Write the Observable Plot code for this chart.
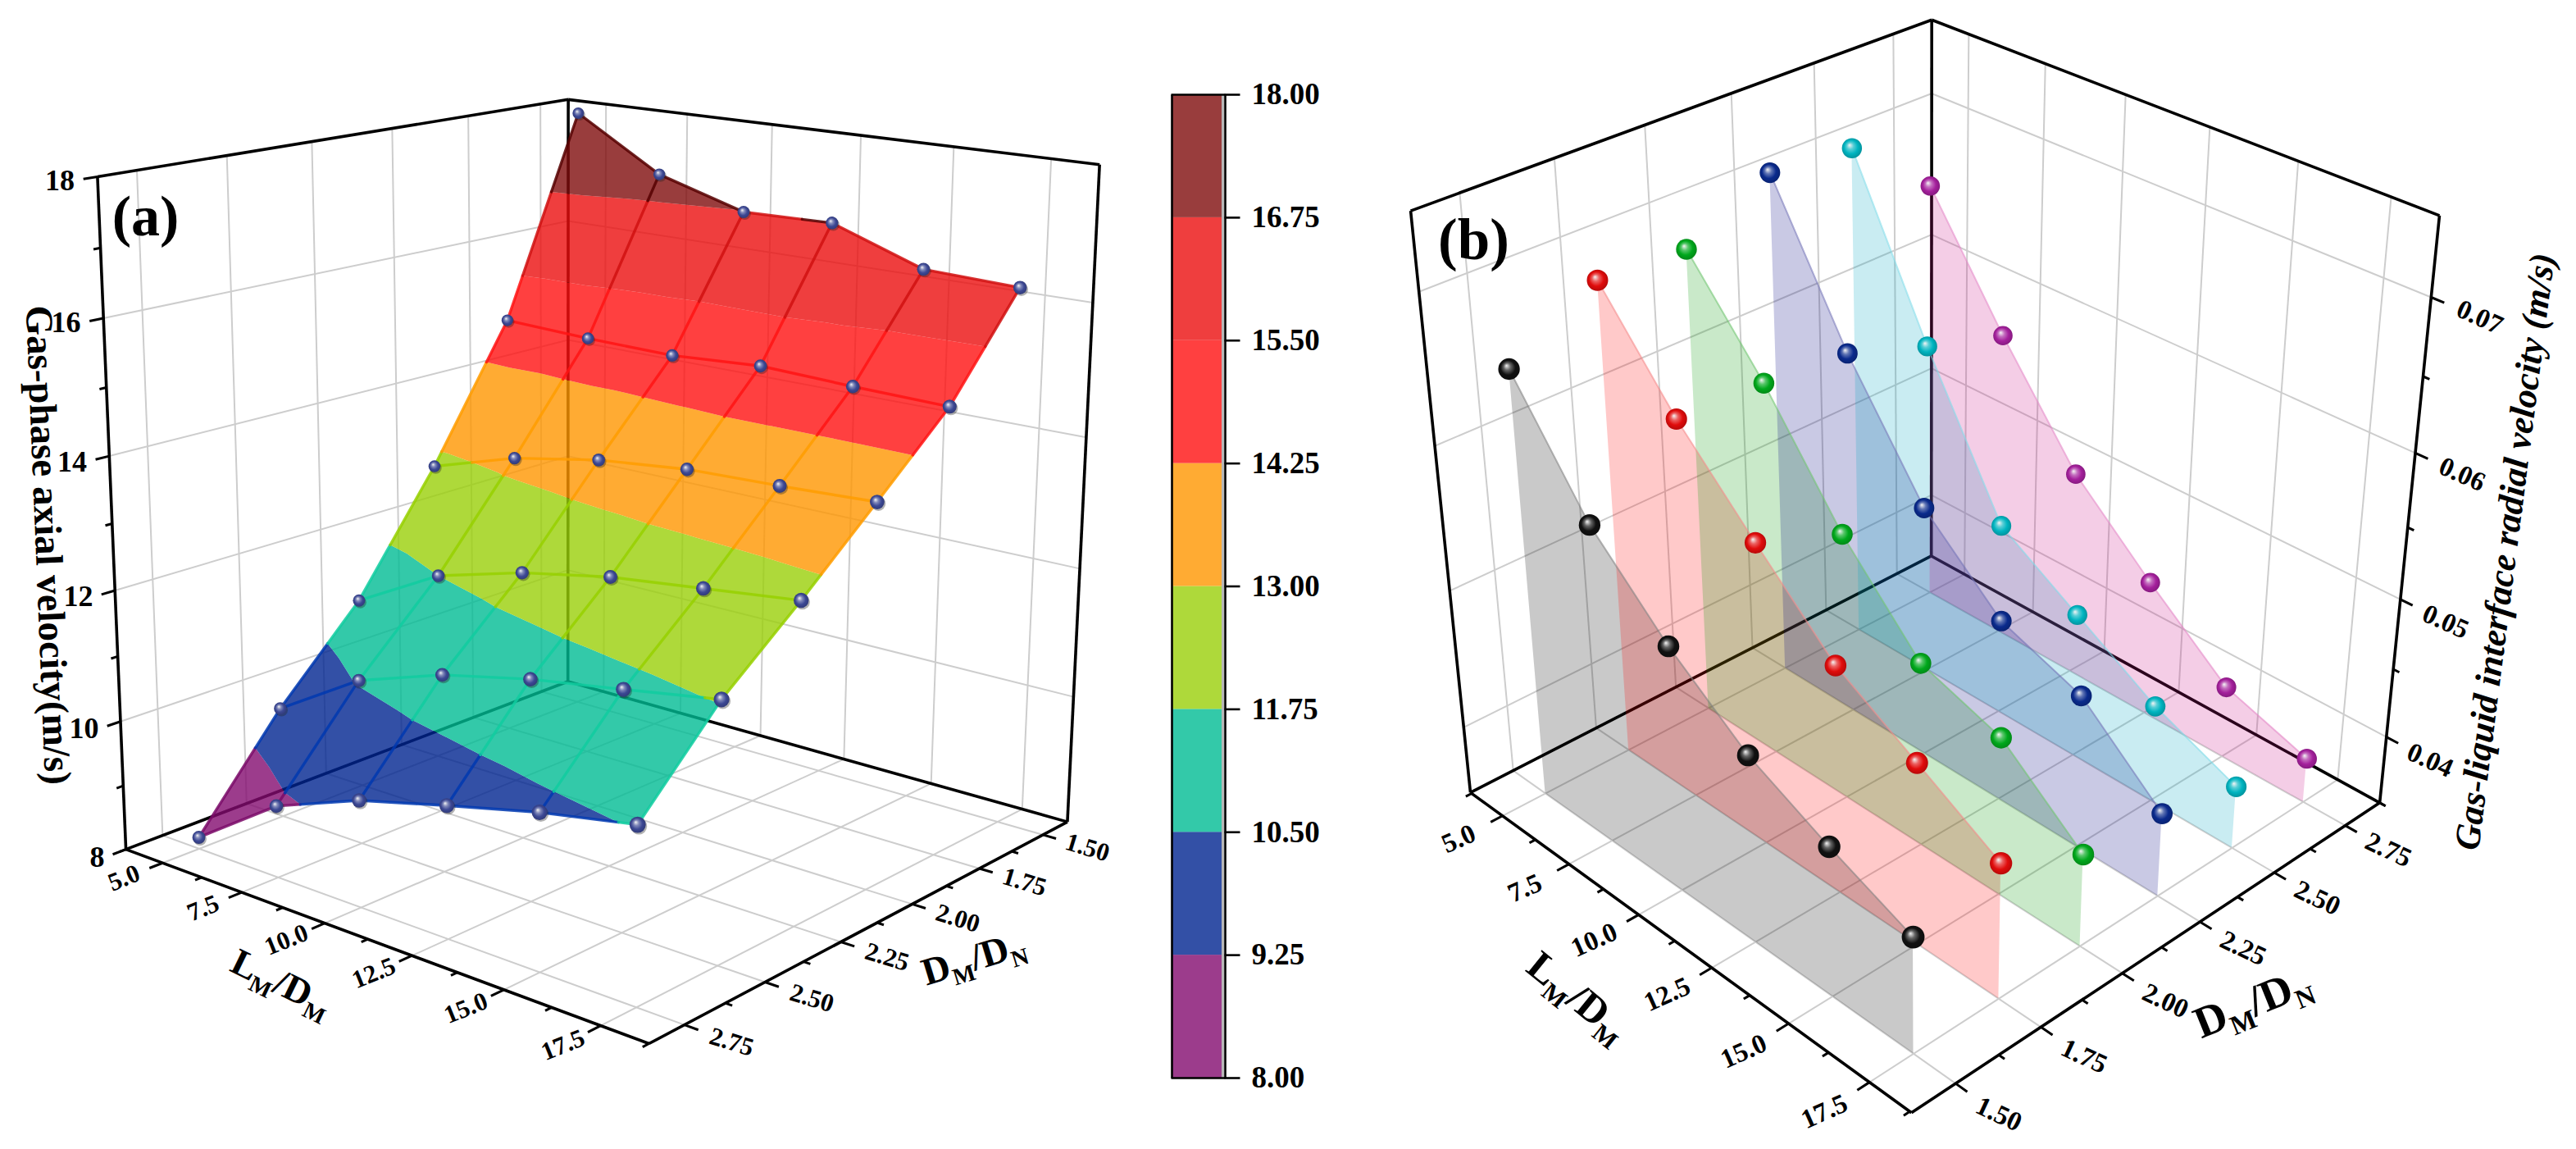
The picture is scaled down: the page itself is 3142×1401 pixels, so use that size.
<!doctype html><html><head><meta charset="utf-8"><style>html,body{margin:0;background:#fff}svg{display:block}</style></head><body><div id="chart"></div>
<script src="https://cdn.jsdelivr.net/npm/d3@7"></script>
<script src="https://cdn.jsdelivr.net/npm/@observablehq/plot@0.6"></script>
<script>
// ---------- data ----------
const lengthRatio = [5, 7.5, 10, 12.5, 15, 17.5];
const diameterRatioA = [2.75, 2.5, 2.25, 2, 1.75, 1.5];
const axial275 = [8.18, 9.10, 9.61, 9.96, 10.29, 10.55];
const axial250 = [9.73, 10.55, 11.01, 11.32, 11.55, 11.79];
const axial225 = [11.02, 11.75, 12.13, 12.40, 12.57, 12.74];
const axial200 = [12.80, 13.22, 13.48, 13.63, 13.68, 13.75];
const axial175 = [14.84, 14.79, 14.77, 14.86, 14.81, 14.78];
const axial150 = [17.93, 17.13, 16.73, 16.76, 16.27, 16.22];
const bandLevels = [8, 9.25, 10.5, 11.75, 13, 14.25, 15.5, 16.75, 18];
const bandFill = ["#830b6f", "#002490", "#00bc93", "#9acf09", "#ff9600", "#ff1010", "#eb0e0e", "#800d0d"];
const bandLine = ["#7a0a68", "#0038b0", "#10cca0", "#96d000", "#ff9c00", "#ff1414", "#d01010", "#560000"];
const diameterRatioB = [1.5, 1.75, 2, 2.25, 2.5, 2.75];
const radial150 = [0.0651, 0.0576, 0.0525, 0.0484, 0.0457, 0.0433];
const radial175 = [0.0684, 0.0619, 0.0565, 0.0513, 0.0480, 0.0447];
const radial200 = [0.0681, 0.0617, 0.0542, 0.0483, 0.0464, 0.0417];
const radial225 = [0.0709, 0.0612, 0.0532, 0.0482, 0.0461, 0.0411];
const radial250 = [0.0704, 0.0592, 0.0491, 0.0456, 0.0421, 0.0396];
const radial275 = [0.0657, 0.0575, 0.0501, 0.0450, 0.0403, 0.0383];
const seriesColor = ["#000000", "#ff0000", "#009900", "#000080", "#00a5c0", "#cc1488"];
const seriesEdge = ["#808080", "#f58a8a", "#70c470", "#7474b8", "#80dcea", "#e488c8"];
const sphereMid = ["#111111", "#e00c0c", "#00a81c", "#0a2a8c", "#00b4c0", "#a4209c"];
const lengthTicks = [5, 7.5, 10, 12.5, 15, 17.5];
const lengthMinor = [3.8, 6.25, 8.75, 11.25, 13.75, 16.25, 18.7];
const diameterTicks = [1.5, 1.75, 2, 2.25, 2.5, 2.75];
const diameterMinor = [1.625, 1.875, 2.125, 2.375, 2.625];
const axialTicks = [8, 10, 12, 14, 16, 18];
const axialMinor = [9, 11, 13, 15, 17];
const radialTicks = [0.04, 0.05, 0.06, 0.07];
const radialMinor = [0.035, 0.045, 0.055, 0.065];

// ---------- 3D view: camera fitted to the drawn box corners ----------
const W = 3142, H = 1401;
function solve(A, b) { const n = A.length; A = A.map((r, i) => [...r, b[i]]);
  for (let i = 0; i < n; i++) { let m = i; for (let k = i + 1; k < n; k++) if (Math.abs(A[k][i]) > Math.abs(A[m][i])) m = k;
    [A[i], A[m]] = [A[m], A[i]];
    for (let k = 0; k < n; k++) if (k !== i) { const f = A[k][i] / A[i][i]; for (let j = i; j <= n; j++) A[k][j] -= f * A[i][j]; } }
  return A.map((r, i) => r[n] / r[i]); }
function camera(c) { const rows = [], rhs = [];
  for (const [u, v, w, x, y] of c) { rows.push([u, v, w, 1, 0, 0, 0, 0, -x * u, -x * v, -x * w]); rhs.push(x); rows.push([0, 0, 0, 0, u, v, w, 1, -y * u, -y * v, -y * w]); rhs.push(y); }
  const N = d3.range(11).map(i => d3.range(11).map(j => d3.sum(rows, r => r[i] * r[j])));
  const B = d3.range(11).map(i => d3.sum(rows, (r, k) => r[i] * rhs[k]));
  return [...solve(N, B), 1]; }
function view(corners, L, D, Z) { const p = camera(corners);
  const f = (l, d, z) => { const u = (l - L[0]) / (L[1] - L[0]), v = (d - D[0]) / (D[1] - D[0]), w = (z - Z[0]) / (Z[1] - Z[0]);
    const q = p[8] * u + p[9] * v + p[10] * w + 1;
    return { x: (p[0] * u + p[1] * v + p[2] * w + p[3]) / q, y: (p[4] * u + p[5] * v + p[6] * w + p[7]) / q, q }; };
  f.L = L; f.D = D; f.Z = Z; return f; }
const viewA = view([[0,1,0,153.6,1035.3],[0,1,1,118.8,214.4],[0,0,0,692,831],[0,0,1,692,120.7],[1,1,0,790,1272.5],[1,0,0,1302,1000.5],[1,0,1,1341,201]], [3.8, 18.7], [1.4, 2.855], [8, 18]);
const viewB = view([[0,0,0,1793,967],[0,0,1,1721,255.6],[0,1,0,2356,677],[0,1,1,2354,24],[1,0,0,2330,1356],[1,1,0,2902,978],[1,1,1,2976,263]], [3.75, 18.75], [1.375, 2.875], [0.035, 0.075]);

const seg = (f, a, b, extra) => { const s = f(...a), e = f(...b); return { x1: s.x, y1: s.y, x2: e.x, y2: e.y, ...extra }; };
function gridOf(f, wallL, wallD, zTicks) { const [L0, L1] = f.L, [D0, D1] = f.D, [Z0, Z1] = f.Z, out = [];
  for (const l of lengthTicks) { out.push(seg(f, [l, D0, Z0], [l, D1, Z0])); out.push(seg(f, [l, wallD, Z0], [l, wallD, Z1])); }
  for (const d of diameterTicks) { out.push(seg(f, [L0, d, Z0], [L1, d, Z0])); out.push(seg(f, [wallL, d, Z0], [wallL, d, Z1])); }
  for (const z of zTicks) { if (z === Z0 || z === Z1) continue; out.push(seg(f, [wallL, D0, z], [wallL, D1, z])); out.push(seg(f, [L0, wallD, z], [L1, wallD, z])); }
  return out; }
function frameOf(f, backD, frontD) { const [L0, L1] = f.L, [Z0, Z1] = f.Z;
  return [ [[L0, frontD, Z0], [L0, frontD, Z1]], [[L0, frontD, Z1], [L0, backD, Z1]], [[L0, backD, Z1], [L1, backD, Z1]], [[L1, backD, Z1], [L1, backD, Z0]],
    [[L0, backD, Z0], [L0, backD, Z1]], [[L0, frontD, Z0], [L0, backD, Z0]], [[L0, backD, Z0], [L1, backD, Z0]], [[L0, frontD, Z0], [L1, frontD, Z0]], [[L1, frontD, Z0], [L1, backD, Z0]] ].map(([a, b]) => seg(f, a, b)); }

// ---------- panel (a) surface: bands clipped per triangle ----------
const axialRows = [axial275, axial250, axial225, axial200, axial175, axial150];
function clipBand(poly, lo, hi) {
  const cut = (P, keep, level) => { const out = []; P.forEach((a, i) => { const b = P[(i + 1) % P.length];
      if (keep(a[2])) out.push(a);
      if (keep(a[2]) !== keep(b[2])) { const t = (level - a[2]) / (b[2] - a[2]); out.push([a[0] + t * (b[0] - a[0]), a[1] + t * (b[1] - a[1]), level]); } });
    return out; };
  return cut(cut(poly, v => v >= lo, lo), v => v <= hi, hi); }
const surfacePts = [], surfaceLines = [];
let pid = 0;
for (let i = 0; i < 5; i++) for (let j = 0; j < 5; j++) {
  const c = [[lengthRatio[j], diameterRatioA[i], axialRows[i][j]], [lengthRatio[j + 1], diameterRatioA[i], axialRows[i][j + 1]], [lengthRatio[j + 1], diameterRatioA[i + 1], axialRows[i + 1][j + 1]], [lengthRatio[j], diameterRatioA[i + 1], axialRows[i + 1][j]]];
  const m = [0, 1, 2].map(k => d3.mean(c, p => p[k]));
  for (let k = 0; k < 4; k++) bandFill.forEach((col, b) => {
    const poly = clipBand([c[k], c[(k + 1) % 4], m], bandLevels[b], bandLevels[b + 1]);
    if (poly.length > 2) { pid++; for (const p of poly) { const s = viewA(...p); surfacePts.push({ id: pid, x: s.x, y: s.y, col }); } } });
}
function lineSeg(a, b) { bandLine.forEach((col, k) => { const lo = bandLevels[k], hi = bandLevels[k + 1];
    const v0 = a[2], v1 = b[2]; if (Math.max(v0, v1) < lo || Math.min(v0, v1) > hi) return;
    const t = v => (v - v0) / (v1 - v0);
    const ts = [t(Math.max(lo, Math.min(v0, v1))), t(Math.min(hi, Math.max(v0, v1)))];
    pid++; for (const q of ts) { const P = [0, 1, 2].map(n => a[n] + q * (b[n] - a[n])), s = viewA(...P); surfaceLines.push({ id: pid, x: s.x, y: s.y, col }); } }); }
for (let i = 0; i < 6; i++) for (let j = 0; j < 6; j++) {
  const p = [lengthRatio[j], diameterRatioA[i], axialRows[i][j]];
  if (j < 5) lineSeg(p, [lengthRatio[j + 1], diameterRatioA[i], axialRows[i][j + 1]]);
  if (i < 5) lineSeg(p, [lengthRatio[j], diameterRatioA[i + 1], axialRows[i + 1][j]]);
}
const qA = viewA(11.25, 2.14, 13).q;
const axialDots = axialRows.flatMap((r, i) => r.map((v, j) => { const s = viewA(lengthRatio[j], diameterRatioA[i], v); return { x: s.x, y: s.y, r: 8.2 * Math.pow(qA / s.q, 1.6) }; }));

// ---------- panel (b) planes ----------
const radialRows = [radial150, radial175, radial200, radial225, radial250, radial275];
const planes = [], radialDots = [];
for (let i = 0; i < 6; i++) radialRows[i].forEach((v, j) => { const t = viewB(lengthRatio[j], diameterRatioB[i], v), f = viewB(lengthRatio[j], diameterRatioB[i], 0.035);
    planes.push({ s: i, x1: t.x, y1: t.y, x2: f.x, y2: f.y, fill: seriesColor[i], edge: seriesEdge[i] }); });
const qB = viewB(11.25, 2.125, 0.055).q;
for (let i = 5; i >= 0; i--) radialRows[i].forEach((v, j) => { const t = viewB(lengthRatio[j], diameterRatioB[i], v); radialDots.push({ x: t.x, y: t.y, r: 12.8 * qB / t.q, fill: `url(#sph${i})` }); });

// ---------- ticks and labels ----------
const tick = (f, at, out) => seg(f, at, out);
const ticksA = [], ticksB = [];
const dA = 0.037, lA = 0.34, dB = 0.034, lB = 0.34;
const [aLoL, aHiL] = viewA.L, aHiD = viewA.D[1];
for (const l of lengthTicks) ticksA.push(tick(viewA, [l, aHiD, 8], [l, aHiD + dA, 8]));
for (const l of lengthMinor) ticksA.push(tick(viewA, [l, aHiD, 8], [l, aHiD + dA / 2, 8]));
for (const d of diameterTicks) ticksA.push(tick(viewA, [aHiL, d, 8], [aHiL + lA, d, 8]));
for (const d of diameterMinor) ticksA.push(tick(viewA, [aHiL, d, 8], [aHiL + lA / 2, d, 8]));
for (const z of axialTicks) ticksA.push(tick(viewA, [aLoL, aHiD, z], [aLoL, aHiD + dA, z]));
for (const z of axialMinor) ticksA.push(tick(viewA, [aLoL, aHiD, z], [aLoL, aHiD + dA / 2, z]));
for (const l of lengthTicks) ticksB.push(tick(viewB, [l, 1.375, 0.035], [l, 1.375 - dB, 0.035]));
for (const l of lengthMinor) ticksB.push(tick(viewB, [l, 1.375, 0.035], [l, 1.375 - dB / 2, 0.035]));
for (const d of diameterTicks) ticksB.push(tick(viewB, [18.75, d, 0.035], [18.75 + lB, d, 0.035]));
for (const d of diameterMinor.concat([2.875])) ticksB.push(tick(viewB, [18.75, d, 0.035], [18.75 + lB / 2, d, 0.035]));
for (const z of radialTicks) ticksB.push(tick(viewB, [18.75, 2.875, z], [18.75 + lB, 2.875, z]));
for (const z of radialMinor) ticksB.push(tick(viewB, [18.75, 2.875, z], [18.75 + lB / 2, 2.875, z]));
const lab = (f, at, text) => { const s = f(...at); return { x: s.x, y: s.y, text }; };
const serif = { fontFamily: "Liberation Serif", fontWeight: "bold", fill: "#000", x: "x", y: "y", text: "text" };
const labelsA_L = lengthTicks.map(l => lab(viewA, [l, aHiD + 0.108, 8], l.toFixed(1)));
const labelsA_D = diameterTicks.map(d => lab(viewA, [aHiL + 1.15, d, 8], d.toFixed(2)));
const labelsA_Z = axialTicks.map(z => lab(viewA, [aLoL, aHiD + 0.06, z], String(z)));
const labelsB_L = lengthTicks.map(l => lab(viewB, [l, 1.375 - 0.125, 0.035], l.toFixed(1)));
const labelsB_D = diameterTicks.map(d => lab(viewB, [18.75 + 1.25, d, 0.035], d.toFixed(2)));
const labelsB_Z = radialTicks.map(z => lab(viewB, [18.75 + 1.25, 2.875, z], z.toFixed(2)));

// ---------- colour bar ----------
const barY = d3.scaleLinear([8, 18], [1314, 115]);
const barRects = bandFill.map((col, i) => ({ x1: 1430, x2: 1493, y1: barY(bandLevels[i]), y2: barY(bandLevels[i + 1]), col }));
const barTicks = bandLevels.map(v => ({ x1: 1493, x2: 1512, y1: barY(v), y2: barY(v) }));
const barLabels = bandLevels.map(v => ({ x: 1526, y: barY(v), text: v.toFixed(2) }));
const barFrame = [{ x1: 1429, y1: 115, x2: 1429, y2: 1314 }, { x1: 1428, y1: 115, x2: 1494, y2: 115 }, { x1: 1428, y1: 1314, x2: 1494, y2: 1314 }, { x1: 1494, y1: 115, x2: 1494, y2: 1314 }];

const defs = () => { const d = d3.create("svg:defs");
  const add = (id, mid) => { const g = d.append("radialGradient").attr("id", id).attr("cx", "50%").attr("cy", "50%").attr("r", "55%").attr("fx", "38%").attr("fy", "34%");
    g.append("stop").attr("offset", "0%").attr("stop-color", "#f4f4f4");
    g.append("stop").attr("offset", "30%").attr("stop-color", d3.interpolateRgb(mid, "#fff")(0.35));
    g.append("stop").attr("offset", "62%").attr("stop-color", mid);
    g.append("stop").attr("offset", "100%").attr("stop-color", d3.color(mid).darker(0.7)); };
  add("sphA", "#3c4894");
  sphereMid.forEach((c, i) => add(`sph${i}`, c));
  return d.node(); };

const link = (rows, o) => Plot.link(rows, { x1: "x1", y1: "y1", x2: "x2", y2: "y2", ...o });
const plot = Plot.plot({
  width: W, height: H, margin: 0, axis: null,
  x: { domain: [0, W], range: [0, W] }, y: { domain: [0, H], range: [0, H] },
  r: { type: "identity" }, color: { type: "identity" },
  style: { background: "#fff" },
  marks: [
    defs,
    link(gridOf(viewA, aLoL, viewA.D[0], axialTicks), { stroke: "#cdcdcd", strokeWidth: 2 }),
    link(frameOf(viewA, viewA.D[0], aHiD), { stroke: "#000", strokeWidth: 3.6 }),
    link(ticksA, { stroke: "#000", strokeWidth: 3 }),
    Plot.line(surfacePts, { x: "x", y: "y", z: "id", fill: "col", stroke: null, fillOpacity: 0.8, className: "merge", curve: "linear-closed" }),
    Plot.line(surfaceLines, { x: "x", y: "y", z: "id", stroke: "col", strokeWidth: 3.4, strokeOpacity: 0.85, fill: null, className: "merge" }),
    Plot.dot(axialDots, { x: "x", y: "y", r: "r", dx: 1.5, dy: 2, fill: "#222", fillOpacity: 0.35, stroke: null }),
    Plot.dot(axialDots, { x: "x", y: "y", r: "r", fill: "url(#sphA)", stroke: null }),
    link(gridOf(viewB, 3.75, 2.875, radialTicks), { stroke: "#cdcdcd", strokeWidth: 2 }),
    link(frameOf(viewB, 2.875, 1.375), { stroke: "#000", strokeWidth: 3.6 }),
    link(ticksB, { stroke: "#000", strokeWidth: 3 }),
    Plot.area(planes, { x1: "x1", y1: "y1", x2: "x2", y2: "y2", z: "s", fill: "fill", fillOpacity: 0.21 }),
    Plot.line(planes, { x: "x1", y: "y1", z: "s", stroke: "edge", strokeWidth: 2, strokeOpacity: 0.6 }),
    Plot.dot(radialDots, { x: "x", y: "y", r: "r", fill: "fill", stroke: null }),
    Plot.rect(barRects, { x1: "x1", x2: "x2", y1: "y1", y2: "y2", fill: "col", fillOpacity: 0.8 }),
    Plot.link([{ x1: 1491, y1: 115, x2: 1491, y2: 1314 }], { x1: "x1", y1: "y1", x2: "x2", y2: "y2", stroke: "#b8b8b8", strokeWidth: 3 }),
    link(barFrame, { stroke: "#000", strokeWidth: 2.6 }),
    link(barTicks, { stroke: "#000", strokeWidth: 2.6 }),
    Plot.text(barLabels, { ...serif, fontSize: 37, textAnchor: "start" }),
    Plot.text(labelsA_L, { ...serif, fontSize: 31, rotate: -22 }),
    Plot.text(labelsA_D, { ...serif, fontSize: 31, rotate: 17 }),
    Plot.text(labelsA_Z, { ...serif, fontSize: 36, textAnchor: "end" }),
    Plot.text(labelsB_L, { ...serif, fontSize: 33, rotate: -24 }),
    Plot.text(labelsB_D, { ...serif, fontSize: 33, rotate: 25 }),
    Plot.text(labelsB_Z, { ...serif, fontSize: 33, rotate: 24 }),
    Plot.text([{ x: 177, y: 264, text: "(a)" }], { ...serif, fontSize: 70 }),
    Plot.text([{ x: 1797, y: 293, text: "(b)" }], { ...serif, fontSize: 71 }),
    Plot.text([{ x: 58, y: 664, text: "Gas-phase axial velocity(m/s)" }], { ...serif, fontSize: 47, rotate: 87.7 }),
    Plot.text([{ x: 3055, y: 672, text: "Gas-liquid interface radial velocity (m/s)" }], { ...serif, fontSize: 44, fontStyle: "italic", rotate: -82.7 }),
    Plot.text([{ x: 343, y: 1198, text: "L_M/D_M" }], { ...serif, fontSize: 46, rotate: 26 }),
    Plot.text([{ x: 1187, y: 1168, text: "D_M/D_N" }], { ...serif, fontSize: 47, rotate: -17 }),
    Plot.text([{ x: 1924, y: 1215, text: "L_M/D_M" }], { ...serif, fontSize: 50, rotate: 39 }),
    Plot.text([{ x: 2747, y: 1222, text: "D_M/D_N" }], { ...serif, fontSize: 54, rotate: -22 })
  ]
});
// one path per colour, so neighbouring translucent pieces leave no seams
plot.querySelectorAll("g.merge").forEach(g => {
  const byKey = new Map();
  g.querySelectorAll("path").forEach(p => { const k = (p.getAttribute("fill") || "") + "|" + (p.getAttribute("stroke") || "");
    if (byKey.has(k)) { const t = byKey.get(k); t.setAttribute("d", t.getAttribute("d") + p.getAttribute("d")); p.remove(); } else byKey.set(k, p); });
});
// subscripts in the axis titles
plot.querySelectorAll("text").forEach(t => { if (!t.textContent.includes("_")) return;
  const parts = t.textContent.split(/_(.)/); t.textContent = "";
  const fs = parseFloat(t.closest("[font-size]").getAttribute("font-size"));
  parts.forEach((s, i) => { if (!s) return; const sp = document.createElementNS("http://www.w3.org/2000/svg", "tspan"); sp.textContent = s;
    if (i % 2) { sp.setAttribute("font-size", 0.62 * fs); sp.setAttribute("dy", 0.22 * fs); } else if (i > 0) sp.setAttribute("dy", -0.22 * fs);
    t.appendChild(sp); }); });
document.getElementById("chart").appendChild(plot);
</script></body></html>
